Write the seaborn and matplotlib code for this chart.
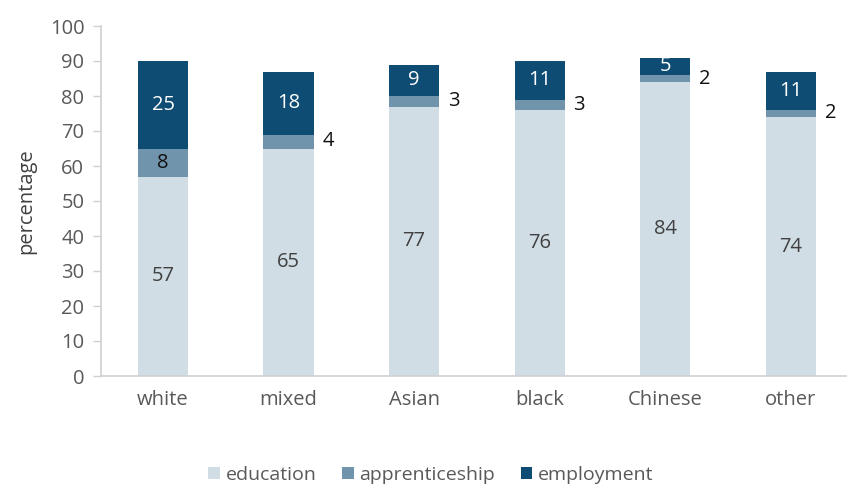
import matplotlib
matplotlib.use("Agg")
import matplotlib.pyplot as plt
import seaborn as sns
import pandas as pd
import numpy as np

groups = ["white", "mixed", "Asian", "black", "Chinese", "other"]
education = [57, 65, 77, 76, 84, 74]
apprenticeship = [8, 4, 3, 3, 2, 2]
employment = [25, 18, 9, 11, 5, 11]

series_names = ["education", "apprenticeship", "employment"]
colors = ["#d0dde5", "#7094ab", "#0f4c73"]

sns.set_theme(style="white")
plt.rcParams["font.family"] = ["Open Sans", "DejaVu Sans"]

df = pd.DataFrame({"group": groups, "education": education,
                   "apprenticeship": apprenticeship, "employment": employment})

fig = plt.figure(figsize=(8.47, 4.87), dpi=100)
ax = fig.add_axes([101 / 847, 1 - 376 / 487, (846 - 101) / 847, (376 - 26) / 487])

bottoms = np.zeros(len(groups))
for name, col in zip(series_names, colors):
    sns.barplot(data=df, x="group", y=name, bottom=bottoms, color=col,
                width=0.4, ax=ax, label=name, saturation=1, linewidth=0)
    bottoms = bottoms + df[name].values

fs = 14.5
ax.set_ylim(0, 100)
ax.set_xlim(-0.494, 5.44)
ax.set_yticks(range(0, 101, 10))
ax.tick_params(axis="y", labelsize=fs, colors="#595959", length=6, width=1,
               direction="out", left=True, color="#d0d0d0", pad=6)
ax.tick_params(axis="x", labelsize=fs, colors="#595959", length=0, pad=10)
ax.set_xlabel("")
ax.set_ylabel("percentage", fontsize=fs, color="#404040", labelpad=10)
for s in ["top", "right"]:
    ax.spines[s].set_visible(False)
for s in ["left", "bottom"]:
    ax.spines[s].set_color("#d0d0d0")
    ax.spines[s].set_linewidth(1.2)

# value labels
for i in range(len(groups)):
    e, a, m = education[i], apprenticeship[i], employment[i]
    ax.text(i, e / 2, str(e), ha="center", va="center", fontsize=fs, color="#404040")
    ax.text(i, e + a + m / 2, str(m), ha="center", va="center", fontsize=fs, color="white")
    if a >= 5:
        ax.text(i, e + a / 2, str(a), ha="center", va="center", fontsize=fs, color="#111111")
    else:
        ax.text(i + 0.27, e + a / 2, str(a), ha="left", va="center", fontsize=fs, color="#111111")

handles, labels = ax.get_legend_handles_labels()
fig.legend(handles, labels, loc="center", bbox_to_anchor=(431 / 847, 1 - 475 / 487),
           ncol=3, frameon=False, fontsize=14, labelcolor="#595959",
           handlelength=0.6, handleheight=0.6, handletextpad=0.3, columnspacing=1.3)
if ax.get_legend():
    ax.get_legend().remove()

fig.savefig("out.png", dpi=100)
